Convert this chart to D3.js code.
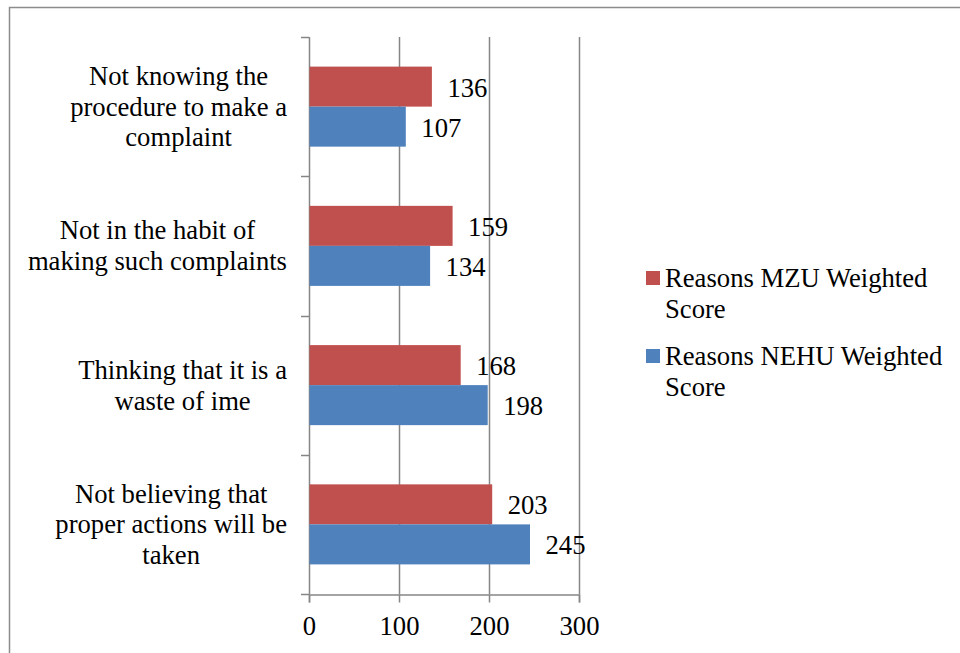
<!DOCTYPE html>
<html><head><meta charset="utf-8">
<script src="https://cdn.jsdelivr.net/npm/d3@7"></script>
<style>html,body{margin:0;padding:0;background:#fff;}svg{display:block;}</style>
</head><body>
<script>
const categories = [
  ["Not knowing the", "procedure to make a", "complaint"],
  ["Not in the habit of", "making such complaints"],
  ["Thinking that it is a", "waste of ime"],
  ["Not believing that", "proper actions will be", "taken"]
];
const seriesNames = ["Reasons MZU Weighted Score", "Reasons NEHU Weighted Score"];
const legendLines = [["Reasons MZU Weighted", "Score"], ["Reasons NEHU Weighted", "Score"]];
const mzu = [136, 159, 168, 203];
const nehu = [107, 134, 198, 245];
const xTicks = [0, 100, 200, 300];
const colors = ["#C0504D", "#4F81BD"];

const W = 960, H = 653;
const fs = 26.67;
const FONT = '"Liberation Serif"';
const svg = d3.select("body").append("svg").attr("width", W).attr("height", H)
  .style("font-family", FONT);

svg.append("rect").attr("x", 9.5).attr("y", 7.5).attr("width", W + 20).attr("height", H + 20)
  .attr("fill", "none").attr("stroke", "#8c8c8c").attr("stroke-width", 1.5);

const x = d3.scaleLinear().domain([0, 300]).range([309, 579]);
const idx = d3.range(categories.length);
const y0 = d3.scaleBand().domain(idx).range([37, 594]).paddingInner(0).paddingOuter(0);
const y1 = d3.scaleBand().domain([0, 1]).range([0, y0.bandwidth()]).paddingInner(0).paddingOuter(0.74);

const grid = "#868686";
svg.append("g").selectAll("line").data(xTicks.slice(1)).join("line")
  .attr("x1", d => Math.round(x(d)) + 0.5).attr("x2", d => Math.round(x(d)) + 0.5)
  .attr("y1", 37).attr("y2", 594).attr("stroke", grid).attr("stroke-width", 1.5);

const xAxis = d3.axisBottom(x).tickValues(xTicks).tickSize(8).tickPadding(14).tickFormat(d3.format("d"));
const gx = svg.append("g").attr("transform", "translate(0,594.5)").call(xAxis);
gx.select(".domain").attr("stroke", grid).attr("stroke-width", 1.5);
gx.selectAll(".tick line").attr("stroke", grid).attr("stroke-width", 1.5);
gx.selectAll(".tick text").style("font-family", FONT).style("font-size", fs + "px").attr("fill", "#000");

const bounds = idx.map(i => y0(i)).concat([y0.range()[1]]);
svg.append("line").attr("x1", 309.5).attr("x2", 309.5).attr("y1", 37).attr("y2", 594)
  .attr("stroke", grid).attr("stroke-width", 1.5);
svg.append("g").selectAll("line").data(bounds).join("line")
  .attr("x1", 301).attr("x2", 309).attr("y1", d => Math.round(d) + 0.5).attr("y2", d => Math.round(d) + 0.5)
  .attr("stroke", grid).attr("stroke-width", 1.5);

const series = [mzu, nehu];
series.forEach((vals, s) => {
  svg.append("g").selectAll("rect").data(vals).join("rect")
    .attr("x", x(0) + 0.5)
    .attr("y", (d, i) => y0(i) + y1(s))
    .attr("width", d => x(d) - x(0))
    .attr("height", y1.bandwidth())
    .attr("fill", colors[s]);
  svg.append("g").selectAll("text").data(vals).join("text")
    .attr("x", d => x(d) + 16)
    .attr("y", (d, i) => y0(i) + y1(s) + y1.bandwidth() / 2 + 1)
    .attr("dominant-baseline", "central")
    .style("font-family", FONT).style("font-size", fs + "px").attr("fill", "#000")
    .text(d => d);
});

const lh = 30.8;
categories.forEach((lines, i) => {
  const g = svg.append("g");
  const cy = y0(i) + y0.bandwidth() / 2;
  const texts = g.selectAll("text").data(lines).join("text")
    .attr("y", (d, k) => cy + (k - (lines.length - 1) / 2) * lh)
    .attr("dominant-baseline", "central")
    .attr("text-anchor", "middle")
    .style("font-family", FONT).style("font-size", fs + "px").attr("fill", "#000")
    .text(d => d);
  let maxW = 0;
  texts.each(function () { maxW = Math.max(maxW, this.getComputedTextLength()); });
  texts.attr("x", 287 - maxW / 2);
});

const legY = [271, 349];
legendLines.forEach((lines, s) => {
  svg.append("rect").attr("x", 646).attr("y", legY[s]).attr("width", 14).attr("height", 14).attr("fill", colors[s]);
  svg.append("g").selectAll("text").data(lines).join("text")
    .attr("x", 665).attr("y", (d, k) => legY[s] + 7 + k * lh)
    .attr("dominant-baseline", "central")
    .style("font-family", FONT).style("font-size", fs + "px").attr("fill", "#000")
    .text(d => d);
});
</script>
</body></html>
